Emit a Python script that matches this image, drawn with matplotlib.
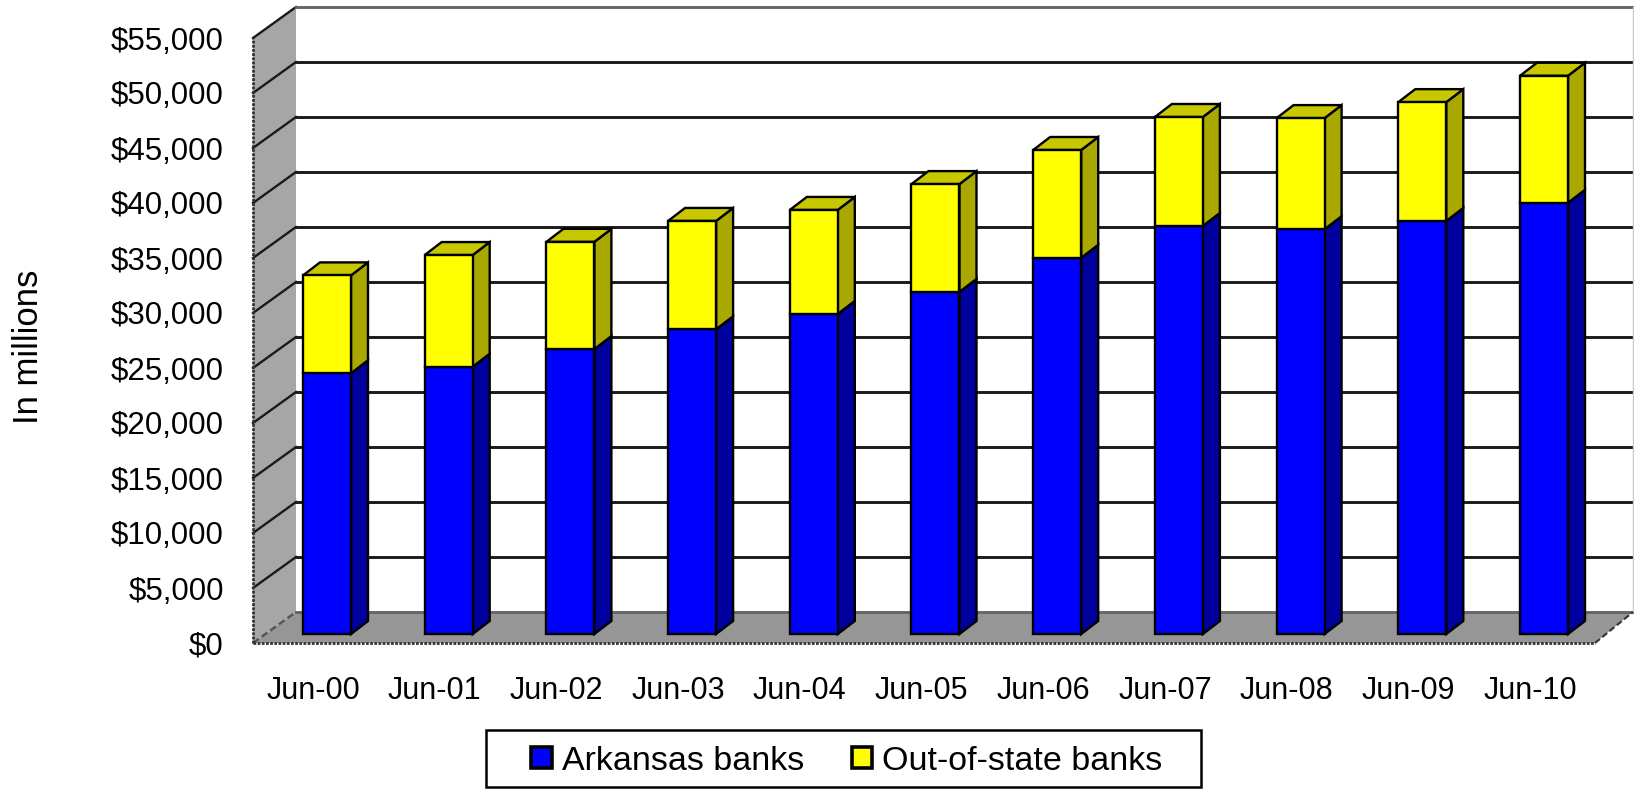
import matplotlib
matplotlib.use("Agg")
import numpy as np
import matplotlib.pyplot as plt
from matplotlib.patches import Patch, Polygon, Rectangle

plt.rcParams['font.family'] = ['Liberation Sans', 'DejaVu Sans']

# Datos
fechas = ["Jun-00", "Jun-01", "Jun-02", "Jun-03", "Jun-04", "Jun-05",
          "Jun-06", "Jun-07", "Jun-08", "Jun-09", "Jun-10"]
arkansas = [23700, 24300, 25900, 27700, 29100, 31100, 34200, 37100, 36800, 37550, 39200]
fuera = [8900, 10150, 9750, 9850, 9450, 9800, 9800, 9900, 10100, 10800, 11550]
ticks_y = [0, 5000, 10000, 15000, 20000, 25000, 30000, 35000, 40000, 45000, 50000, 55000]

W, H = 1634, 793
fig = plt.figure(figsize=(W / 100, H / 100), dpi=100, facecolor="white")
ax = fig.add_axes([253 / W, (H - 643) / H, (1595 - 253) / W, (643 - 38) / H])

# Escalas: cuantas unidades de datos vale un pixel
pitch = 121.7
px_x = 1 / pitch
px_y = 5000 / 55
ax.set_xlim((253 - 327) * px_x, (1595 - 327) * px_x)
ax.set_ylim(0, 55000)

# Profundidad de la caja y de las barras
prof_x, prof_y = 43 * px_x, 31 * px_y
bar_dx, bar_dy = 17 * px_x, 13 * px_y
base = 9 * px_y
ancho = 48 * px_x

x0, x1 = ax.get_xlim()
x_fondo = x1 + 38 * px_x
LINEA = "#1a1a1a"

# Pared izquierda, piso y fondo
ax.add_patch(Polygon([(x0, 0), (x0, 55000), (x0 + prof_x, 55000 + prof_y), (x0 + prof_x, prof_y)],
                     closed=True, fc="#a6a6a6", ec="none", clip_on=False, zorder=1))
ax.add_patch(Polygon([(x0, 0), (x0 + prof_x, prof_y), (x_fondo, prof_y), (x1, 0)],
                     closed=True, fc="#969696", ec="none", clip_on=False, zorder=1))

# Lineas de la grilla sobre la pared y el fondo
for t in ticks_y:
    col = "#555555" if t == 0 else LINEA
    ls = (0, (3, 1.5)) if t == 0 else "-"
    ax.plot([x0, x0 + prof_x], [t, t + prof_y], color=col, lw=1.7, ls=ls, clip_on=False, zorder=2)
    ax.plot([x0 + prof_x, x_fondo], [t + prof_y, t + prof_y], color="#666666" if t in (0, 55000) else LINEA,
            lw=2.1, clip_on=False, zorder=2)
ax.plot([x_fondo] * 2, [prof_y, 55000 + prof_y], color="#c8c8c8", lw=1, clip_on=False, zorder=2)
ax.plot([x1, x_fondo], [0, prof_y], color="#333333", lw=1.5, ls=(0, (3, 1.5)), clip_on=False, zorder=2)

# Ejes punteados del frente
ax.plot([x0, x0], [0, 55000], color="#333333", lw=2, ls=(0, (1, 0.5)), clip_on=False, zorder=3)
ax.plot([x0, x1], [0, 0], color="#333333", lw=2, ls=(0, (1, 0.5)), clip_on=False, zorder=3)


def caja(x, abajo, alto, frente, lado, techo):
    # Dibuja un tramo de barra con su cara lateral y su tapa
    der, arr = x + ancho / 2, abajo + alto
    izq = x - ancho / 2
    ax.add_patch(Polygon([(der, abajo), (der + bar_dx, abajo + bar_dy), (der + bar_dx, arr + bar_dy), (der, arr)],
                         closed=True, fc=lado, ec="black", lw=1.7, clip_on=False, zorder=4))
    ax.add_patch(Polygon([(izq, arr), (izq + bar_dx, arr + bar_dy), (der + bar_dx, arr + bar_dy), (der, arr)],
                         closed=True, fc=techo, ec="black", lw=1.7, clip_on=False, zorder=4))
    ax.bar(x, alto, width=ancho, bottom=abajo, color=frente, edgecolor="black", linewidth=1.7,
           clip_on=False, zorder=5)


for i in range(len(fechas)):
    caja(i, base, arkansas[i], "#0000ff", "#00009f", "#0000c8")
    caja(i, base + arkansas[i], fuera[i], "#ffff00", "#a8a800", "#c8c800")

# Ticks y textos
ax.set_yticks(ticks_y)
ax.set_yticklabels(["${:,}".format(t) for t in ticks_y], fontsize=22.5)
ax.set_xticks(np.arange(len(fechas)) - 14 * px_x)
ax.set_xticklabels(fechas, fontsize=22)
ax.tick_params(axis="y", length=0, pad=21)
ax.tick_params(axis="x", length=0, pad=24)
ax.set_ylabel("In millions", fontsize=25)
ax.yaxis.set_label_coords((45 - 253) / (1595 - 253), (643 - 347) / (643 - 38))
for s in ax.spines.values():
    s.set_visible(False)
ax.patch.set_visible(False)

# Marco de la leyenda
fig.add_artist(Rectangle((486 / W, (H - 787) / H), (1201 - 486) / W, 57 / H, transform=fig.transFigure,
                         fc="white", ec="black", lw=1.8))
fig.legend(
    handles=[Patch(fc="#0000ff", ec="black", lw=2.6, label="Arkansas banks"),
             Patch(fc="#ffff00", ec="black", lw=2.6, label="Out-of-state banks")],
    ncol=2, loc="center", bbox_to_anchor=(847 / W, (H - 761) / H),
    fontsize=24.5, frameon=False,
    handlelength=0.6, handleheight=0.6, handletextpad=0.3, columnspacing=1.4,
    borderpad=0, borderaxespad=0)

fig.savefig("out.png", dpi=100)
